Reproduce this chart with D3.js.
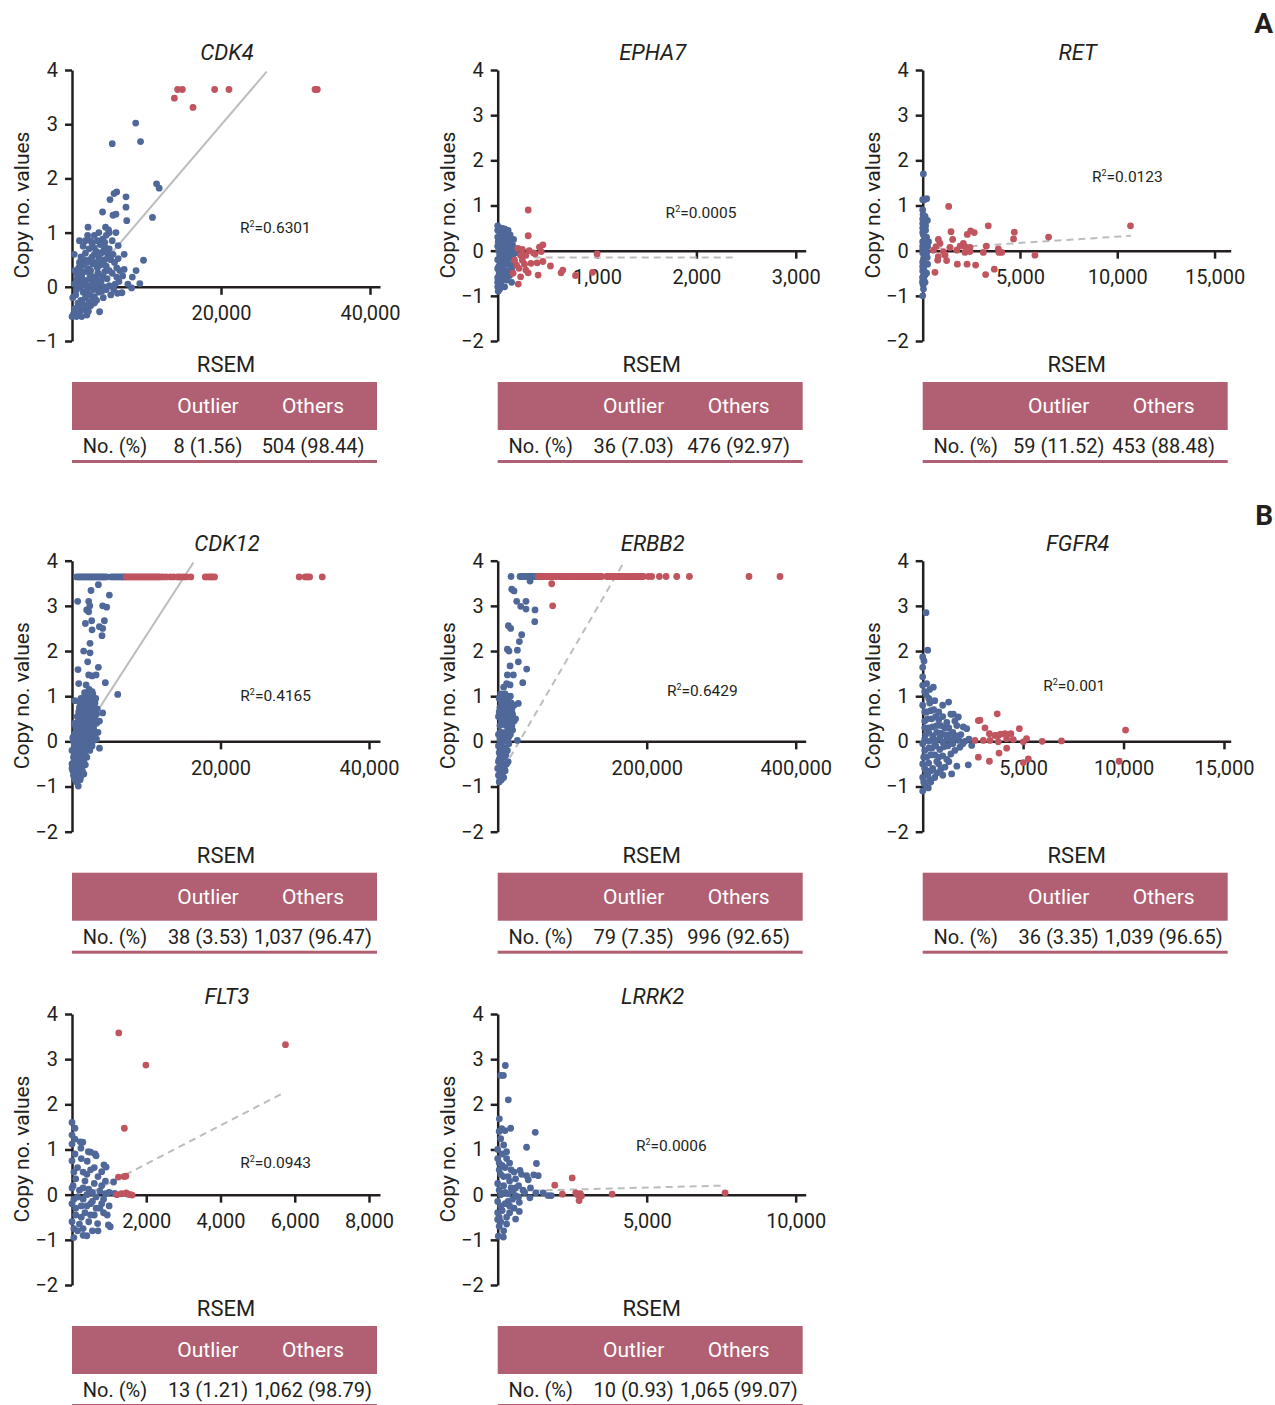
<!DOCTYPE html>
<html>
<head>
<meta charset="utf-8">
<script src="https://cdn.jsdelivr.net/npm/d3@7"></script>
<style>
  body { margin: 0; background: #fff; }
  text { font-family: Roboto, "Noto Sans", sans-serif; fill: #231f20; }
  .axis .domain, .axis line { stroke: #231f20; stroke-width: 2.5; }
  .axis text { font-size: 20px; font-family: Roboto, sans-serif; fill: #231f20; }
</style>
</head>
<body>
<svg width="1275" height="1405"></svg>
<script>
// data
const genes = ['CDK4', 'EPHA7', 'RET', 'CDK12', 'ERBB2', 'FGFR4', 'FLT3', 'LRRK2'];
const r2Values = ['0.6301', '0.0005', '0.0123', '0.4165', '0.6429', '0.001', '0.0943', '0.0006'];
const outlierCounts = ['8 (1.56)', '36 (7.03)', '59 (11.52)', '38 (3.53)', '79 (7.35)', '36 (3.35)', '13 (1.21)', '10 (0.93)'];
const othersCounts = ['504 (98.44)', '476 (92.97)', '453 (88.48)', '1,037 (96.47)', '996 (92.65)', '1,039 (96.65)', '1,062 (98.79)', '1,065 (99.07)'];
const xMax = [41342, 3100, 15830, 41480, 413400, 15335, 8296, 10336];
const yMin = [-1, -2, -2, -2, -2, -2, -2, -2];
const xTicks = [
    [20000, 40000], [1000, 2000, 3000], [5000, 10000, 15000],
    [20000, 40000], [200000, 400000], [5000, 10000, 15000],
    [2000, 4000, 6000, 8000], [5000, 10000]
];
const yTicksA = [-1, 0, 1, 2, 3, 4];
const yTicksB = [-2, -1, 0, 1, 2, 3, 4];
// R2 label anchor, data units
const r2Pos = [[22550, 1.09], [1690, 0.84], [8700, 1.64], [22660, 1.02], [227200, 1.12], [6000, 1.23], [4530, 0.72], [4640, 1.09]];
// regression line end points, data units
const fitLines = [
    [[0, -0.23], [26130, 3.97]], [[0, -0.15], [2390, -0.15]], [[0, 0.03], [10700, 0.33]],
    [[0, -0.2], [16360, 3.96]], [[0, -0.82], [169900, 3.98]], null,
    [[0, -0.17], [5740, 2.27]], [[0, 0.07], [7540, 0.2]]
];
const fitDashed = [false, true, true, false, true, true, true, true];

const cdk4Others = [[0,-0.55],[200,-0.5],[500,-0.45],[1000,-0.48],[1500,-0.42],[2000,-0.52],[2500,-0.35],[3000,-0.3],[3700,-0.46],[800,-0.3],[1200,-0.25],[1800,-0.2],[2400,-0.15],[3000,-0.18],[3600,-0.1],[4200,-0.2],[5200,-0.15],[6700,-0.11],[8000,-0.02],[9100,0.06],[600,-0.05],[1100,0],[1600,0.05],[2100,-0.05],[2600,0.02],[3100,0.08],[3600,0.05],[4300,0],[5000,0.02],[5800,0.05],[6300,0.1],[700,0.15],[1300,0.2],[1900,0.12],[2400,0.22],[3000,0.18],[3500,0.25],[4100,0.2],[4700,0.15],[5400,0.25],[6000,0.18],[6800,0.2],[900,0.35],[1500,0.4],[2200,0.33],[2800,0.42],[3400,0.35],[4000,0.45],[4600,0.38],[5200,0.5],[6000,0.35],[7000,0.32],[1200,0.55],[1800,0.62],[2400,0.5],[3000,0.6],[3600,0.55],[4200,0.65],[4800,0.6],[5500,0.6],[6200,0.52],[1500,0.75],[2300,0.7],[3000,0.72],[3800,0.78],[4300,0.68],[5000,0.7],[6200,0.76],[2100,0.95],[2500,0.85],[4600,0.95],[4900,1.05],[5000,1.0],[5900,1.0],[4500,1.1],[2150,1.1],[4100,1.38],[5100,1.61],[5500,1.32],[5900,1.34],[5650,1.72],[6000,1.75],[7250,1.66],[7250,1.47],[7350,1.22],[10800,1.28],[11350,1.9],[11700,1.82],[8550,3.02],[5400,2.64],[9200,2.68],[9600,0.49],[8600,0.3],[8100,0.18],[7500,0.05],[7000,0.6],[300,0.05],[100,-0.2],[400,0.3],[300,0.6],[1000,0.85],
    [400,-0.4],[900,-0.38],[1400,-0.3],[1900,-0.35],[2300,-0.28],[2800,-0.22],[3300,-0.25],[500,-0.15],[1500,-0.1],[2000,-0.12],[2900,-0.05],[3400,-0.02],[4000,-0.08],[4600,-0.05],[800,0.08],[1400,0.1],[2000,0.02],[2700,0.12],[3300,0.15],[3900,0.1],[4400,0.28],[5000,0.3],[600,0.25],[1100,0.3],[1700,0.28],[2500,0.3],[3200,0.45],[3800,0.4],[4400,0.5],[1000,0.45],[1600,0.5],[2000,0.45],[2700,0.55],[3300,0.65],[3900,0.62],[4500,0.72],[1800,0.85],[2700,0.8],[3400,0.85],[4100,0.88],[3000,0.95],[3600,1.0],[4400,0.82],[5400,0.85],[5700,0.45],[6400,0.3],[5600,-0.05],[6100,-0.12],[2200,-0.45],[1300,-0.55],[600,-0.55]];
const cdk4Outlier = [[13740,3.48],[14180,3.64],[14810,3.64],[16240,3.31],[19150,3.64],[21070,3.64],[32620,3.64],[32930,3.64]];

const epha7Others = [[0,-0.6],[10,-0.75],[5,-0.9],[20,-0.85],[30,-0.7],[15,-0.5],[40,-0.55],[0,-0.4],[25,-0.3],[50,-0.4],[60,-0.6],[80,-0.5],[100,-0.45],[120,-0.55],[90,-0.65],[70,-0.8],[140,-0.4],[0,-0.2],[30,-0.15],[60,-0.1],[90,-0.2],[120,-0.15],[150,-0.1],[180,-0.05],[10,0],[40,0.05],[70,0],[100,0.05],[130,0],[160,0.03],[20,0.15],[50,0.2],[80,0.15],[110,0.2],[150,0.12],[0,0.3],[30,0.35],[60,0.3],[90,0.35],[130,0.25],[160,0.25],[10,0.45],[40,0.5],[70,0.48],[100,0.35],[0,0.55],[20,0.42],[170,-0.3],[140,-0.7],[110,-0.3],[160,-0.2],[0,-0.7],[20,-0.6],[0,-0.8],[45,-0.25],[0,0.1],
    [5,-0.65],[15,-0.55],[25,-0.75],[35,-0.45],[45,-0.65],[55,-0.35],[65,-0.25],[75,-0.45],[85,-0.3],[10,-0.35],[20,-0.1],[35,0.1],[55,0],[75,0.1],[95,-0.05],[115,0.1],[5,0.2],[25,0.25],[45,0.4],[65,0.2],[85,0.25],[105,0.45],[125,0.35],[0,0.45]];
const epha7Outlier = [[307,0.9],[307,0.33],[204,0.05],[248,0.03],[317,0],[455,0.13],[438,-0.02],[283,-0.1],[376,-0.07],[397,-0.27],[455,-0.24],[531,-0.34],[638,-0.49],[655,-0.43],[783,-0.55],[955,-0.48],[1000,-0.07],[190,-0.32],[214,-0.39],[231,-0.58],[207,-0.74],[283,-0.43],[307,-0.49],[407,-0.54],[169,-0.21],[248,-0.21],[335,-0.28],[155,-0.5],[360,-0.05],[270,-0.3],[420,0.08],[230,-0.1]];

const retOthers = [[34,1.7],[205,1.15],[0,1.13],[240,0.67],[120,0.76],[0,0.9],[60,0.6],[0,0.5],[150,0.45],[30,0.35],[200,0.3],[0,0.2],[100,0.15],[250,0.1],[50,0.05],[180,0],[0,-0.05],[120,-0.1],[230,-0.15],[40,-0.2],[160,-0.3],[0,-0.35],[80,-0.45],[200,-0.5],[0,-0.6],[60,-0.65],[120,-0.7],[20,-0.75],[100,-0.55],[0,-1.0],[40,-0.85],[150,0.55],[200,-0.05],[0,0.7],[0,-0.68],[30,-0.62],[90,0.25],[0,0.02],
    [0,-0.7],[10,-0.58],[40,-0.72],[70,-0.55],[0,-0.45],[30,-0.4],[90,-0.3],[0,-0.25],[60,-0.15],[150,-0.05],[0,0.1],[70,0.2],[130,0.3],[0,0.4],[40,0.45],[90,0.55],[0,0.6],[20,0.8],[60,1.12],[140,0],[250,-0.3],[300,0.2]];
const retOutlier = [[1335,0.98],[1455,0.42],[1540,0.25],[805,0.25],[890,0.16],[2090,0.16],[2290,0.36],[2465,0.44],[2650,0.4],[3370,0.55],[4710,0.41],[4670,0.26],[6470,0.3],[10680,0.55],[3270,0.1],[3885,0.04],[3920,-0.04],[4060,-0.04],[5770,-0.1],[3115,-0.04],[3235,-0.53],[3680,-0.41],[2720,-0.32],[2280,-0.3],[1780,-0.3],[1230,-0.22],[770,-0.21],[630,-0.48],[1060,-0.02],[1400,0.07],[1750,0.01],[2170,-0.04],[2430,0.07],[1920,0.1],[550,0.01],[800,-0.13],[1150,-0.1],[2430,-0.02],[2175,0.09],[685,0.09]];

const cdk12Others = [[850,-0.99],[600,-0.9],[1100,-0.85],[300,-0.8],[700,-0.75],[1200,-0.78],[1600,-0.72],[400,-0.7],[0,-0.6],[100,-0.65],[200,-0.55],[500,-0.6],[900,-0.62],[1300,-0.58],[1800,-0.52],[0,-0.5],[300,-0.42],[700,-0.4],[1100,-0.45],[1500,-0.38],[2000,-0.35],[400,-0.3],[0,-0.2],[600,-0.22],[1000,-0.18],[1400,-0.25],[1900,-0.15],[2400,-0.2],[3700,-0.15],[800,-0.1],[200,0],[500,0.02],[900,-0.02],[1300,0.03],[1700,0],[2100,0.05],[2500,0],[2900,0.02],[3300,0.05],[300,0.15],[700,0.12],[1100,0.18],[1500,0.15],[1900,0.2],[2300,0.12],[2700,0.18],[3100,0.15],[3500,0.2],[500,0.32],[900,0.35],[1300,0.38],[1700,0.32],[2100,0.4],[2500,0.35],[2900,0.3],[3300,0.4],[3700,0.45],[700,0.55],[1100,0.52],[1500,0.58],[1900,0.55],[2300,0.6],[2700,0.52],[3100,0.58],[4130,0.63],[1000,0.75],[1400,0.72],[1800,0.78],[2200,0.7],[2600,0.8],[3000,0.75],[3400,0.72],[1200,0.95],[1600,0.98],[2000,0.92],[2400,1.0],[2800,1.05],[3200,0.95],[400,0.9],[6160,1.04],[900,1.28],[1900,1.25],[2300,1.15],[2700,1.1],[4490,1.3],[3240,1.47],[2250,1.47],[2700,1.45],[810,1.59],[3550,1.64],[2110,1.76],[1570,2.0],[2430,1.96],[2430,2.17],[2700,2.47],[3690,2.54],[4130,2.5],[4040,2.34],[1800,2.61],[2650,2.67],[4360,2.67],[1980,2.91],[2250,2.87],[2400,3.0],[4130,3.0],[4670,2.97],[765,3.1],[2250,3.1],[2560,3.34],[3550,3.47],[5030,3.24],
    [400,-0.85],[900,-0.7],[200,-0.75],[1400,-0.65],[700,-0.5],[1000,-0.55],[1600,-0.45],[200,-0.35],[900,-0.3],[1300,-0.35],[1700,-0.28],[300,-0.1],[700,-0.05],[1100,-0.08],[1500,-0.1],[2200,-0.08],[2700,-0.1],[100,0.08],[700,0.05],[1100,0.08],[1500,0.06],[1900,0.08],[2300,0.02],[2700,0.08],[3100,0.05],[500,0.2],[900,0.22],[1300,0.25],[1700,0.22],[2100,0.25],[2500,0.22],[2900,0.25],[300,0.4],[700,0.42],[1100,0.45],[1500,0.45],[1900,0.42],[2300,0.48],[2700,0.42],[3100,0.48],[900,0.65],[1300,0.65],[1700,0.68],[2100,0.65],[2500,0.68],[2900,0.65],[3300,0.6],[1100,0.85],[1500,0.85],[1900,0.88],[2300,0.85],[2700,0.9],[3100,0.85],[1700,1.08],[2100,1.05],[2500,1.1],
    [630,3.64],[900,3.64],[1150,3.64],[1400,3.64],[1650,3.64],[1900,3.64],[2150,3.64],[2400,3.64],[2650,3.64],[2900,3.64],[3150,3.64],[3400,3.64],[3650,3.64],[3900,3.64],[4150,3.64],[4400,3.64],[4650,3.64],[5300,3.64],[5600,3.64],[5900,3.64],[6200,3.64],[6500,3.64],[6800,3.64],[7050,3.64]];
const cdk12Outlier = [[7300,3.64],[7550,3.64],[7800,3.64],[8050,3.64],[8300,3.64],[8550,3.64],[8800,3.64],[9050,3.64],[9300,3.64],[9550,3.64],[9800,3.64],[10050,3.64],[10300,3.64],[10550,3.64],[10800,3.64],[11050,3.64],[11300,3.64],[11550,3.64],[11800,3.64],[12200,3.64],[12650,3.64],[13250,3.64],[13700,3.64],[14250,3.64],[14600,3.64],[15000,3.64],[15400,3.64],[16000,3.64],[17950,3.64],[18300,3.64],[18600,3.64],[18900,3.64],[19200,3.64],[30600,3.64],[31400,3.64],[31700,3.64],[32000,3.64],[33700,3.64]];

const erbb2Others = [[2000,-0.9],[5000,-0.85],[8000,-0.8],[1000,-0.75],[4000,-0.7],[10000,-0.65],[0,-0.6],[3000,-0.55],[7000,-0.6],[12000,-0.5],[1000,-0.45],[5000,-0.4],[9000,-0.35],[14000,-0.45],[2000,-0.25],[6000,-0.2],[10000,-0.15],[3000,-0.05],[7000,0],[11000,0.05],[15000,-0.05],[26400,0.02],[1000,0.15],[5000,0.2],[9000,0.15],[13000,0.2],[17000,0.15],[3000,0.35],[7000,0.4],[11000,0.35],[15000,0.3],[20000,0.25],[1000,0.55],[5000,0.6],[9000,0.55],[13000,0.62],[17000,0.5],[22000,0.45],[3000,0.75],[7000,0.8],[11000,0.78],[15000,0.72],[19000,0.7],[27700,0.84],[2000,0.95],[6000,1.0],[10000,1.05],[14000,0.9],[18000,0.85],[8000,1.2],[12000,1.28],[16600,1.25],[13000,1.47],[21000,1.47],[33600,1.3],[16600,1.67],[38900,1.6],[27700,1.76],[13000,2.04],[15200,2.0],[26400,2.02],[29100,2.21],[32200,2.36],[14300,2.56],[17400,2.5],[49700,2.65],[50100,2.91],[30900,2.99],[38000,2.93],[25500,3.1],[38000,3.1],[18800,3.37],[21900,3.33],[43400,3.55],
    [3000,-0.8],[6000,-0.7],[9000,-0.55],[2000,-0.4],[6000,-0.5],[11000,-0.3],[4000,-0.3],[8000,-0.25],[13000,-0.2],[1000,-0.1],[5000,-0.1],[9000,0],[13000,0.05],[3000,0.05],[7000,0.1],[11000,0.2],[15000,0.1],[19000,0.35],[3000,0.2],[5000,0.45],[9000,0.45],[13000,0.4],[17000,0.35],[2000,0.65],[7000,0.65],[11000,0.65],[15000,0.55],[20000,0.6],[5000,0.85],[9000,0.9],[13000,0.8],[17000,1.0],[4000,1.05],[12000,1.0],[22000,0.8],[24000,0.5],
    [17900,3.65],[30000,3.65],[32500,3.65],[35000,3.65],[37500,3.65],[40000,3.65],[42500,3.65],[45000,3.65],[47500,3.65],[50000,3.65],[52300,3.65]];
const erbb2Outlier = [[54600,3.65],[57000,3.65],[59500,3.65],[62000,3.65],[64500,3.65],[67000,3.65],[69500,3.65],[72000,3.65],[74500,3.65],[77000,3.65],[79500,3.65],[82000,3.65],[84500,3.65],[87000,3.65],[89500,3.65],[92000,3.65],[94500,3.65],[97000,3.65],[99500,3.65],[102000,3.65],[104500,3.65],[107000,3.65],[109500,3.65],[112000,3.65],[114500,3.65],[117000,3.65],[119500,3.65],[122000,3.65],[124500,3.65],[127000,3.65],[129500,3.65],[132000,3.65],[134500,3.65],[137000,3.65],[139600,3.65],
    [146300,3.65],[149000,3.65],[151500,3.65],[154000,3.65],[156500,3.65],[159000,3.65],[161500,3.65],[164000,3.65],[166500,3.65],[169000,3.65],[171500,3.65],[174000,3.65],[176500,3.65],[179000,3.65],[181500,3.65],[184000,3.65],[186500,3.65],[189000,3.65],[191500,3.65],[193500,3.65],[195500,3.65],
    [202200,3.65],[206700,3.65],[217000,3.65],[226000,3.65],[240300,3.65],[257300,3.65],[337300,3.65],[378900,3.65],[72500,3.49],[73800,3.0]];

const fgfr4Others = [[0,-1.1],[280,-1.03],[100,-0.95],[400,-0.9],[0,-0.8],[250,-0.75],[600,-0.8],[1440,-0.72],[150,-0.65],[500,-0.6],[900,-0.62],[1110,-0.57],[0,-0.5],[300,-0.48],[700,-0.45],[2270,-0.52],[200,-0.35],[600,-0.3],[1000,-0.32],[1400,-0.28],[100,-0.2],[450,-0.15],[850,-0.18],[1250,-0.1],[1850,-0.13],[2440,-0.09],[0,-0.05],[300,0],[650,0.02],[1000,-0.02],[1400,0.03],[1800,0.02],[2100,0],[150,0.15],[500,0.12],[900,0.18],[1300,0.15],[1700,0.12],[2190,0.28],[2020,0.32],[300,0.3],[700,0.35],[1100,0.3],[1525,0.6],[1775,0.54],[1600,0.45],[100,0.45],[450,0.5],[800,0.48],[995,0.8],[1290,0.87],[200,0.65],[550,0.7],[0,0.8],[350,0.85],[166,1.04],[530,1.2],[0,1.24],[200,1.28],[0,1.43],[0,1.64],[66,1.78],[0,1.87],[250,2.02],[166,2.85],[600,-0.05],[1200,0.42],
    [50,-0.9],[350,-0.85],[700,-0.7],[1000,-0.75],[100,-0.6],[400,-0.65],[800,-0.5],[1300,-0.45],[1700,-0.55],[50,-0.35],[400,-0.3],[800,-0.35],[1200,-0.4],[1600,-0.2],[300,-0.15],[650,-0.1],[1050,-0.12],[1500,-0.05],[2000,-0.05],[100,0.05],[500,0.05],[850,0.08],[1200,0.05],[1600,0.08],[2300,0.05],[300,0.2],[700,0.2],[1100,0.15],[1500,0.2],[1900,0.15],[100,0.3],[500,0.32],[900,0.35],[1300,0.3],[1700,0.35],[250,0.5],[650,0.55],[1000,0.55],[1400,0.6],[100,0.65],[400,0.68],[800,0.65],[300,0.95],[600,0.9],[100,1.1],[350,1.15]];
const fgfr4Outlier = [[3710,0.61],[2770,0.46],[2850,0.47],[3100,0.3],[3320,0.17],[3760,0.13],[3880,0.16],[4390,0.17],[4810,0.28],[2600,0.02],[3020,0.02],[3350,0.02],[3760,-0.01],[4180,0.06],[4510,0.04],[5170,0.06],[5010,-0.01],[5950,0],[6910,0.01],[4180,-0.15],[3800,-0.26],[3320,-0.44],[2770,-0.35],[5260,-0.39],[5010,-0.47],[10100,0.25],[9780,-0.44],[4100,0.17],[3600,0.13]];

const flt3Others = [[0,1.6],[80,1.47],[0,1.32],[80,1.23],[220,1.17],[290,1.16],[0,1.12],[240,1.03],[440,0.95],[500,0.94],[620,0.9],[650,0.86],[80,0.9],[410,0.74],[860,0.66],[920,0.61],[800,0.51],[1120,0.28],[0,0.75],[150,0.6],[300,0.5],[500,0.55],[700,0.4],[100,0.35],[350,0.3],[600,0.25],[900,0.3],[0,0.15],[200,0.1],[450,0.12],[750,0.08],[1000,0.05],[150,-0.05],[400,0],[650,-0.05],[900,0.02],[1150,0.03],[0,-0.2],[250,-0.25],[500,-0.2],[750,-0.3],[1000,-0.25],[100,-0.45],[350,-0.4],[600,-0.45],[850,-0.4],[0,-0.6],[200,-0.65],[450,-0.6],[690,-0.64],[980,-0.67],[1030,-0.71],[150,-0.8],[400,-0.91],[50,-0.95],[300,-0.75],[550,-0.8],[800,-0.2],[950,-0.45],
    [50,0.5],[250,0.8],[400,0.45],[600,0.6],[30,0.2],[300,0.15],[550,0.05],[800,0.2],[50,-0.1],[300,-0.1],[550,-0.15],[850,-0.1],[100,-0.3],[400,-0.25],[650,-0.3],[250,-0.5],[500,-0.45],[50,-0.75],[300,-0.9],[700,-0.8]];
const flt3Outlier = [[1260,3.58],[1990,2.87],[5750,3.32],[1410,1.47],[1250,0.39],[1450,0.41],[1210,0],[1460,0.04],[1570,0],[1500,0.01],[1620,-0.01],[1330,0.02],[1400,0.4]];

const lrrk2Others = [[256,2.86],[100,2.64],[190,2.64],[356,2.1],[56,1.68],[134,1.46],[245,1.42],[434,1.47],[1260,1.38],[970,1.05],[100,1.24],[1300,0.69],[746,0.54],[970,0.42],[1210,0.44],[1360,0.42],[1025,0.33],[1280,0.04],[1525,0.04],[1690,-0.02],[1800,-0.02],[1080,-0.07],[725,-0.17],[725,-0.37],[600,-0.54],[190,-0.94],[20,-0.92],[0,-0.55],[0,1.0],[150,0.9],[300,0.8],[50,0.7],[250,0.6],[450,0.55],[100,0.45],[350,0.4],[600,0.35],[0,0.25],[200,0.2],[450,0.15],[700,0.2],[850,0.1],[100,0],[350,0.02],[600,-0.02],[900,0.05],[0,-0.15],[250,-0.2],[500,-0.1],[150,-0.35],[400,-0.4],[50,-0.7],[300,-0.65],[200,-0.8],[0,-0.4],[550,0.5],[800,0.45],[1100,0.15],[400,0.7],
    [0,0.8],[50,0.55],[200,0.4],[400,0.3],[50,0.1],[250,0.05],[500,0.08],[700,-0.05],[100,-0.25],[350,-0.15],[550,-0.3],[50,-0.5],[300,-0.5],[100,-0.6],[400,-0.25],[200,1.1],[50,1.4],[300,0.95],[600,0.15],[150,0.65]];
const lrrk2Outlier = [[1915,0.21],[2500,0.37],[2170,0.01],[2620,0.04],[2770,0.02],[2730,-0.13],[3840,0.01],[7630,0.04],[2680,0],[2810,-0.03]];

const othersPoints = [cdk4Others, epha7Others, retOthers, cdk12Others, erbb2Others, fgfr4Others, flt3Others, lrrk2Others];
const outlierPoints = [cdk4Outlier, epha7Outlier, retOutlier, cdk12Outlier, erbb2Outlier, fgfr4Outlier, flt3Outlier, lrrk2Outlier];

// layout
const colX = [72, 497.7, 922.7];
const rowTop = [70, 560.7, 1014];
const plotW = 308, plotH = 271, tableW = 305;
const blue = '#4f6899', red = '#c0545f', rose = '#b06072';

const svg = d3.select('svg');

genes.forEach((gene, i) => {
    const g = svg.append('g')
        .attr('transform', `translate(${colX[i % 3]},${rowTop[Math.floor(i / 3)]})`);
    const x = d3.scaleLinear().domain([0, xMax[i]]).range([0, plotW]);
    const y = d3.scaleLinear().domain([yMin[i], 4]).range([plotH, 0]);

    g.append('g').attr('class', 'axis')
        .call(d3.axisLeft(y).tickValues(yMin[i] === -1 ? yTicksA : yTicksB)
            .tickFormat(d3.format('d'))
            .tickSize(7).tickSizeOuter(0).tickPadding(7));
    g.append('g').attr('class', 'axis')
        .attr('transform', `translate(0,${y(0)})`)
        .call(d3.axisBottom(x).tickValues(xTicks[i]).tickFormat(d3.format(','))
            .tickSize(8).tickSizeOuter(0).tickPadding(11));

    if (fitLines[i]) {
        const f = fitLines[i];
        g.append('line')
            .attr('x1', x(f[0][0])).attr('y1', y(f[0][1]))
            .attr('x2', x(f[1][0])).attr('y2', y(f[1][1]))
            .style('stroke', '#bdbdbd').style('stroke-width', 2)
            .style('stroke-dasharray', fitDashed[i] ? '7,5' : null);
    }

    g.append('g').selectAll('circle').data(othersPoints[i]).enter().append('circle')
        .attr('cx', d => x(d[0])).attr('cy', d => y(d[1])).attr('r', 3.4)
        .style('fill', blue);
    g.append('g').selectAll('circle').data(outlierPoints[i]).enter().append('circle')
        .attr('cx', d => x(d[0])).attr('cy', d => y(d[1])).attr('r', 3.4)
        .style('fill', red);

    // R2 label
    const r2 = g.append('text')
        .attr('x', x(r2Pos[i][0])).attr('y', y(r2Pos[i][1]) + 5.5)
        .style('font-size', '15.5px');
    r2.append('tspan').text('R');
    r2.append('tspan').text('2').style('font-size', '9px').attr('dy', -6);
    r2.append('tspan').text('=' + r2Values[i]).attr('dy', 6);

    // titles
    g.append('text').attr('x', 155).attr('y', -10)
        .attr('text-anchor', 'middle')
        .style('font-size', '22px').style('font-style', 'italic')
        .text(gene);
    g.append('text').attr('x', 154).attr('y', 302)
        .attr('text-anchor', 'middle').style('font-size', '22px')
        .text('RSEM');
    g.append('text')
        .attr('transform', `translate(-50,135) rotate(-90)`)
        .attr('text-anchor', 'middle').attr('dominant-baseline', 'central')
        .style('font-size', '21px')
        .text('Copy no. values');

    // table
    g.append('rect').attr('x', 0).attr('y', 312).attr('width', tableW).attr('height', 48)
        .style('fill', rose);
    g.append('rect').attr('x', 0).attr('y', 390).attr('width', tableW).attr('height', 3)
        .style('fill', rose);
    [['Outlier', 136], ['Others', 241]].forEach(h => {
        g.append('text').attr('x', h[1]).attr('y', 336)
            .attr('text-anchor', 'middle').attr('dominant-baseline', 'central')
            .style('font-size', '21px').style('fill', '#fff')
            .text(h[0]);
    });
    [['No. (%)', 43], [outlierCounts[i], 136], [othersCounts[i], 241]].forEach(c => {
        g.append('text').attr('x', c[1]).attr('y', 376)
            .attr('text-anchor', 'middle').attr('dominant-baseline', 'central')
            .style('font-size', '20px')
            .text(c[0]);
    });
});

// panel letters
[['A', 33], ['B', 525]].forEach(l => {
    svg.append('text').attr('x', 1273).attr('y', l[1])
        .attr('text-anchor', 'end')
        .style('font-size', '28px').style('font-weight', 'bold')
        .text(l[0]);
});
</script>
</body>
</html>
